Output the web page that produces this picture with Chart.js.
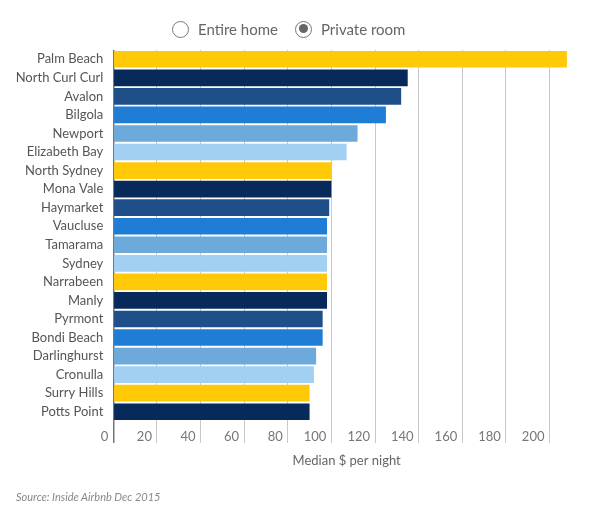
<!DOCTYPE html>
<html>
<head>
<meta charset="utf-8">
<script src="https://cdn.jsdelivr.net/npm/chart.js@4"></script>
<style>
  body { margin: 0; background: #fff; font-family: Lato, "Open Sans", sans-serif; }
  #wrap { position: relative; width: 614px; height: 517px; }
  #chart { position: absolute; left: 0; top: 0; }
  .leg { position: absolute; top: 19px; height: 20px; display: flex; align-items: center; color: #666; font-size: 15px; }
  .dot { width: 17px; height: 17px; border: 1.5px solid #777; border-radius: 50%; margin-right: 9px; box-sizing: border-box; position: relative; background: #fff; }
  .dot.on::after { content: ""; position: absolute; left: 2.5px; top: 2.5px; width: 9px; height: 9px; border-radius: 50%; background: #666; }
  #source { position: absolute; left: 16px; top: 490px; font-size: 11px; font-style: italic; color: #888; }
</style>
</head>
<body>
<div id="wrap">
  <canvas id="chart" width="614" height="517"></canvas>
  <div class="leg" style="left:172px"><span class="dot"></span>Entire home</div>
  <div class="leg" style="left:295px"><span class="dot on"></span>Private room</div>
  <div id="source">Source: Inside Airbnb Dec 2015</div>
</div>
<script>
// median price per night, private room
const suburbs = ["Palm Beach", "North Curl Curl", "Avalon", "Bilgola", "Newport", "Elizabeth Bay",
    "North Sydney", "Mona Vale", "Haymarket", "Vaucluse", "Tamarama", "Sydney", "Narrabeen",
    "Manly", "Pyrmont", "Bondi Beach", "Darlinghurst", "Cronulla", "Surry Hills", "Potts Point"];
const privateRoom = [208, 135, 132, 125, 112, 107, 100, 100, 99, 98, 98, 98, 98, 98, 96, 96, 93, 92, 90, 90];
const priceTicks = [0, 20, 40, 60, 80, 100, 120, 140, 160, 180, 200];
const palette = ["#FFC907", "#082A5B", "#1F4F88", "#1F7DD6", "#6DAADB", "#A1D0F3"];

const barColors = suburbs.map((s, i) => palette[i % palette.length]);

new Chart(document.getElementById("chart"), {
    type: "bar",
    data: {
        labels: suburbs,
        datasets: [{
            label: "Private room",
            data: privateRoom,
            backgroundColor: barColors,
            barPercentage: 0.9,
            categoryPercentage: 1.0
        }]
    },
    options: {
        indexAxis: "y",
        responsive: false,
        animation: false,
        layout: { padding: { top: 50, right: 34, bottom: 46, left: 0 } },
        plugins: { legend: { display: false }, tooltip: { enabled: false } },
        scales: {
            x: {
                min: 0,
                max: 214,
                afterBuildTicks: scale => { scale.ticks = priceTicks.map(v => ({ value: v })); },
                afterFit: scale => { scale.height = 50; },
                ticks: {
                    autoSkip: false,
                    maxRotation: 0,
                    align: "end",
                    labelOffset: -5,
                    padding: -14,
                    color: "#777",
                    font: { family: "Lato", size: 13 }
                },
                grid: {
                    color: ctx => ctx.tick && ctx.tick.value === 0 ? "#777" : "#c8c8c8",
                    lineWidth: ctx => ctx.tick && ctx.tick.value === 0 ? 1.5 : 1,
                    tickLength: 22
                },
                border: { display: false },
                title: {
                    display: true,
                    text: "Median $ per night",
                    color: "#666",
                    font: { family: "Lato", size: 13 },
                    padding: { top: 0, bottom: 2 }
                }
            },
            y: {
                afterFit: scale => { scale.width = 113.3; },
                ticks: { autoSkip: false, color: "#555", padding: 10, font: { family: "Lato", size: 13 } },
                grid: { display: false, drawTicks: false },
                border: { display: false }
            }
        }
    }
});
</script>
</body>
</html>
